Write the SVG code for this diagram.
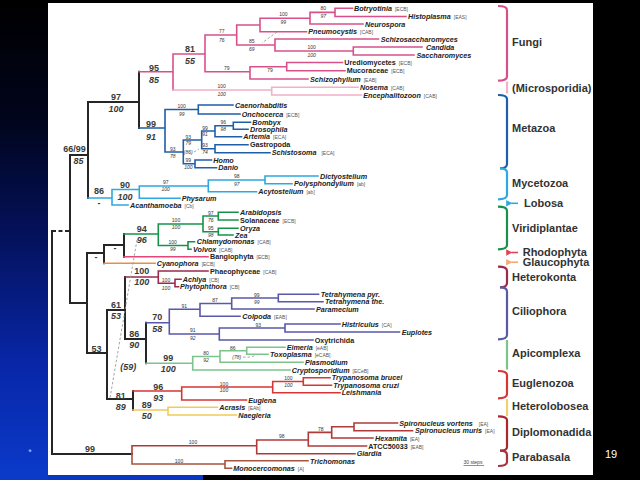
<svg xmlns="http://www.w3.org/2000/svg" width="640" height="480" viewBox="0 0 640 480">
<defs>
<linearGradient id="bg" x1="0" y1="0" x2="0" y2="1">
<stop offset="0" stop-color="#000000"/>
<stop offset="0.25" stop-color="#01051c"/>
<stop offset="0.5" stop-color="#04125e"/>
<stop offset="0.75" stop-color="#0826a6"/>
<stop offset="1" stop-color="#0b3acb"/>
</linearGradient>
<marker id="ar" viewBox="0 0 6 6" refX="1" refY="3" markerWidth="4" markerHeight="4" orient="auto-start-reverse"><path d="M6,0 L0,3 L6,6 z" fill="context-stroke"/></marker>
<style>
text{font-family:"Liberation Sans",Arial,sans-serif}
.br{fill:none;stroke-linecap:square;stroke-linejoin:miter}
.k{stroke:#262626;stroke-width:2}
.fu{stroke:#d8508a;stroke-width:1.6}
.mi{stroke:#f2b0c9;stroke-width:1.6}
.me{stroke:#1f5ea8;stroke-width:1.6}
.my{stroke:#2ea8e0;stroke-width:1.6}
.vi{stroke:#17924a;stroke-width:1.6}
.rh{stroke:#e6457a;stroke-width:1.6}
.gl{stroke:#f08a4a;stroke-width:1.6}
.he{stroke:#9a2a4e;stroke-width:1.6}
.ci{stroke:#5a58a8;stroke-width:1.6}
.ap{stroke:#7cc48c;stroke-width:1.6}
.eu{stroke:#d83636;stroke-width:1.6}
.hl{stroke:#f0cc58;stroke-width:1.6}
.di{stroke:#b03a3a;stroke-width:1.6}
.pa{stroke:#a8543e;stroke-width:1.6}
.dash{fill:none;stroke:#9a9a9a;stroke-width:0.9;stroke-dasharray:2.5,2}
.lf{font-size:7.2px;font-weight:bold;font-style:italic;fill:#222}
.lu{font-size:7.2px;font-weight:bold;fill:#222}
.tg{font-size:5px;font-weight:normal;font-style:normal;fill:#555}
.sm{font-size:5px;fill:#333;text-anchor:middle}
.smi{font-size:5px;fill:#333;text-anchor:middle;font-style:italic}
.bg9{font-size:9px;font-weight:bold;fill:#3a3a3a;text-anchor:middle}
.bi9{font-size:9px;font-weight:bold;font-style:italic;fill:#3a3a3a;text-anchor:middle}
.gp{font-size:11px;font-weight:bold;fill:#333}
.bk{fill:none;stroke-width:2.2;stroke-linecap:butt}
</style>
</defs>
<rect width="640" height="480" fill="#000"/>
<rect x="0" y="0" width="48" height="480" fill="url(#bg)"/>
<rect x="48" y="475" width="155" height="5" fill="#0a36c4"/>
<rect x="48" y="3" width="545" height="472" fill="#fff"/>
<text x="30" y="455" font-size="9" fill="#b8c8ff" text-anchor="middle">*</text>
<text x="611" y="457.5" font-size="11" fill="#fff" text-anchor="middle">19</text>

<g id="connectors">
<path class="br k" d="M52,231 V454 M52,454 H132 M70,155 V303 M70,155 H88 M70,303 H87 M88,102 V198 M88,102 H139 M139,71.7 V128 M87,253 V353 M87,253 H104 M87,353 H107 M104,245 V263.3 M104,245 H124 M124,234 V256.7 M107,310 V399 M107,310 H125 M107,399 H133 M125,277 V339 M125,339 H146 M146,322.7 V363.3 M133,391 V410"/>
<path d="M52,231 H70" fill="none" stroke="#262626" stroke-width="2" stroke-dasharray="4,2.5"/>
<path class="br fu" d="M139,71.7 H173 M173,54 V90 M173,54 H205 M205,35 V71.7 M205,35 H236.7 M205,71.7 H250 M236.7,25 V45 M236.7,25 H260 M236.7,45 H275 M260,18.2 V31.7 M260,18.2 H310 M260,31.7 H306.5 M310,12.4 V24 M310,12.4 H335 M310,24 H363 M335,8.3 V16.5 M335,8.3 H352.5 M335,16.5 H406 M275,39 V51 M275,39 H378.5 M275,51 H353.3 M353.3,47 V55 M353.3,47 H422 M353.3,55 H414 M250,66.7 V79 M250,66.7 H286.7 M250,79 H308 M286.7,62.5 V70.7 M286.7,62.5 H342.5 M286.7,70.7 H345"/>
<path class="br mi" d="M173,90 H271.7 M271.7,87.3 V95 M271.7,87.3 H358 M271.7,95 H361.5"/>
<path class="br me" d="M139,128 H165 M165,109.5 V152 M165,109.5 H198.3 M165,152 H183.3 M198.3,105 V114 M198.3,105 H233 M198.3,114 H240 M183.3,140 V163.8 M183.3,140 H201.7 M183.3,163.8 H195 M201.7,131 V148.7 M201.7,131 H215 M201.7,148.7 H215 M215,125.8 V136.7 M215,125.8 H233.3 M215,136.7 H241.5 M233.3,122.3 V129.3 M233.3,122.3 H250.5 M233.3,129.3 H248 M215,144.7 V152.7 M215,144.7 H248 M215,152.7 H270 M195,160 V167.7 M195,160 H211.5 M195,167.7 H216.5"/>
<path class="br my" d="M88,198 H112 M112,189.5 V205 M112,189.5 H139.3 M112,205 H128 M139.3,186 V198.3 M139.3,186 H208.3 M139.3,198.3 H180 M208.3,180 V191.7 M208.3,180 H265 M208.3,191.7 H256.5 M265,176 V183.7 M265,176 H318 M265,183.7 H292"/>
<path class="br vi" d="M124,234 H158.3 M158.3,224 V245.5 M158.3,224 H203 M158.3,245.5 H188 M203,216 V231.7 M203,216 H218.3 M203,231.7 H218.3 M218.3,212.3 V220 M218.3,212.3 H238 M218.3,220 H238 M218.3,228.3 V235 M218.3,228.3 H238 M218.3,235 H233 M188,241.7 V249.3 M188,241.7 H194.5 M188,249.3 H191"/>
<path class="br rh" d="M124,256.7 H208"/>
<path class="br gl" d="M104,263.3 H155"/>
<path class="br he" d="M125,277 H158.3 M158.3,271 V283.3 M158.3,271 H208 M158.3,283.3 H175 M175,279.3 V286.7 M175,279.3 H181 M175,286.7 H178.5"/>
<path class="br ci" d="M146,322.7 H169.3 M169.3,309.3 V334 M169.3,309.3 H200 M169.3,334 H219.3 M200,303.5 V316.3 M200,303.5 H231.7 M200,316.3 H240 M231.7,298 V309 M231.7,298 H278.3 M231.7,309 H314 M278.3,294.3 V301.7 M278.3,294.3 H318.5 M278.3,301.7 H323 M219.3,328 V340 M219.3,328 H285 M219.3,340 H313 M285,324 V332 M285,324 H340 M285,332 H399.5"/>
<path class="br ap" d="M146,363.3 H192.7 M192.7,356.5 V370 M192.7,356.5 H220 M192.7,370 H290 M220,350.8 V362.3 M220,350.8 H246.7 M220,362.3 H303 M246.7,347.3 V354.3 M246.7,347.3 H285 M246.7,354.3 H268"/>
<path class="br eu" d="M133,391 H181.7 M181.7,387 V400 M181.7,387 H272.7 M181.7,400 H246.5 M272.7,381.5 V392.7 M272.7,381.5 H303.3 M272.7,392.7 H340 M303.3,377.7 V385.3 M303.3,377.7 H330 M303.3,385.3 H331.5"/>
<path class="br hl" d="M133,410 H168 M168,407.3 V415 M168,407.3 H217.5 M168,415 H236.5"/>
<path class="br di" d="M132,445.7 V454 M132,445.7 H256.7 M256.7,440 V453.7 M256.7,440 H308.3 M256.7,453.7 H355 M308.3,432.4 V446 M308.3,432.4 H331.7 M308.3,446 H366.5 M331.7,426.8 V438 M331.7,426.8 H354 M331.7,438 H373 M354,423 V430.7 M354,423 H397.5 M354,430.7 H412.5"/>
<path class="br pa" d="M132,454 V464 M132,464 H225 M225,460.7 V468.3 M225,460.7 H308 M225,468.3 H231.5"/>
<path class="dash" d="M277,32 L262,43 M194,152 L199,149 M243,357 Q250,358 256,355 M137,240 L110,398"/>
</g>

<g id="support">
<text class="bg9" x="116" y="100">97</text><text class="bi9" x="116" y="112">100</text>
<text class="bg9" x="154" y="70.5">95</text><text class="bi9" x="154" y="82.5">85</text>
<text class="bg9" x="190" y="51.5">81</text><text class="bi9" x="190" y="64">55</text>
<text class="bg9" x="151" y="127">99</text><text class="bi9" x="151" y="139.5">91</text>
<text class="bg9" x="74.5" y="151.5">66/99</text><text class="bi9" x="78.5" y="164">85</text>
<text class="bg9" x="99" y="194">86</text><text class="bg9" x="99" y="206">-</text>
<text class="bg9" x="125" y="187.5">90</text><text class="bi9" x="125" y="199.5">100</text>
<text class="bg9" x="141.7" y="231.5">94</text><text class="bi9" x="141.7" y="242.5">96</text>
<text class="bg9" x="115" y="251">-</text><text class="bg9" x="96" y="260">-</text>
<text class="bg9" x="141.7" y="274.3">100</text><text class="bi9" x="141.7" y="285">100</text>
<text class="bg9" x="116" y="308.3">61</text><text class="bi9" x="116" y="318.5">53</text>
<text class="bg9" x="157.3" y="320">70</text><text class="bi9" x="157.3" y="331.6">58</text>
<text class="bg9" x="134.3" y="336.5">86</text><text class="bi9" x="134.3" y="348.3">90</text>
<text class="bg9" x="96.5" y="351.5">53</text>
<text class="bg9" x="168.3" y="360.7">99</text><text class="bi9" x="168.3" y="371.7">100</text>
<text class="bi9" x="128.3" y="370">(59)</text>
<text class="bg9" x="120.7" y="398.8">81</text><text class="bi9" x="120.7" y="410">89</text>
<text class="bg9" x="158.3" y="389.5">96</text><text class="bi9" x="158.3" y="400.5">93</text>
<text class="bg9" x="146.7" y="408">89</text><text class="bi9" x="146.7" y="418.5">50</text>
<text class="bg9" x="90" y="452">99</text>

<text class="sm" x="323.3" y="10.3">80</text><text class="smi" x="323.3" y="18">97</text>
<text class="sm" x="283.3" y="16">100</text><text class="smi" x="283.3" y="24.3">99</text>
<text class="sm" x="221.7" y="32.5">77</text><text class="smi" x="221.7" y="41.5">76</text>
<text class="sm" x="251.7" y="42.5">85</text><text class="smi" x="251.7" y="50.5">69</text>
<text class="sm" x="311.7" y="49">100</text><text class="smi" x="311.7" y="56.5">100</text>
<text class="sm" x="226.7" y="70">79</text>
<text class="sm" x="270" y="72">79</text>
<text class="sm" x="221.7" y="88">100</text><text class="smi" x="221.7" y="96">100</text>
<text class="sm" x="181.7" y="107.5">100</text><text class="smi" x="181.7" y="115.5">99</text>
<text class="sm" x="223.3" y="124">96</text><text class="smi" x="223.3" y="131">98</text>
<text class="sm" x="205" y="129.5">99</text><text class="smi" x="205" y="136.3">91</text>
<text class="sm" x="205" y="147">93</text><text class="smi" x="205" y="153.8">74</text>
<text class="sm" x="188.3" y="138.5">93</text><text class="smi" x="188.3" y="145">79</text>
<text class="smi" x="188.3" y="153.5">(86)</text>
<text class="sm" x="188.3" y="162">99</text><text class="smi" x="188.3" y="168.5">100</text>
<text class="sm" x="172.7" y="150.5">93</text><text class="smi" x="172.7" y="157.8">78</text>
<text class="sm" x="165.7" y="184.3">97</text><text class="smi" x="165.7" y="191.3">100</text>
<text class="sm" x="236.7" y="178.3">98</text><text class="smi" x="236.7" y="185.5">97</text>
<text class="sm" x="176" y="222">100</text><text class="smi" x="176" y="229">100</text>
<text class="sm" x="210.7" y="214.5">97</text><text class="smi" x="210.7" y="221.8">76</text>
<text class="sm" x="210.7" y="230">95</text><text class="smi" x="210.7" y="237.3">98</text>
<text class="sm" x="172.7" y="244">100</text><text class="smi" x="172.7" y="251.3">99</text>
<text class="sm" x="166" y="282">100</text><text class="smi" x="166" y="289.5">100</text>
<text class="sm" x="184.3" y="307.8">91</text>
<text class="sm" x="215" y="302">87</text>
<text class="sm" x="256.7" y="296.5">99</text><text class="smi" x="256.7" y="303.5">99</text>
<text class="sm" x="192.7" y="332">91</text><text class="smi" x="192.7" y="339.5">92</text>
<text class="sm" x="258.3" y="326.5">93</text>
<text class="sm" x="206" y="355">80</text><text class="smi" x="206" y="362">92</text>
<text class="sm" x="232.7" y="349.5">86</text>
<text class="smi" x="236.7" y="358.5">(78)</text>
<text class="sm" x="224" y="385.5">100</text><text class="smi" x="224" y="392.3">100</text>
<text class="sm" x="288.3" y="380">100</text><text class="smi" x="288.3" y="387">100</text>
<text class="sm" x="193" y="444">100</text>
<text class="sm" x="281.7" y="438.3">98</text>
<text class="sm" x="320.7" y="431">78</text>
<text class="sm" x="179" y="462.5">100</text>
</g>

<g id="taxa">
<g id="t01"><text class="lf" x="354" y="10.9">Botryotinia<tspan class="tg" dx="3">[ECB]</tspan></text></g>
<g id="t02"><text class="lf" x="408" y="19.1">Histoplasma<tspan class="tg" dx="3">[EAS]</tspan></text></g>
<g id="t03"><text class="lf" x="365" y="26.6">Neurospora</text></g>
<g id="t04"><text class="lf" x="308.3" y="34.3">Pneumocystis<tspan class="tg" dx="3">[CAB]</tspan></text></g>
<g id="t05"><text class="lf" x="380.7" y="41.6">Schizosaccharomyces</text></g>
<g id="t06"><text class="lf" x="426" y="49.6">Candida</text></g>
<g id="t07"><text class="lf" x="416.5" y="57.6">Saccharomyces</text></g>
<g id="t08"><text class="lu" x="344.3" y="65.1">Urediomycetes<tspan class="tg" dx="3">[ECB]</tspan></text></g>
<g id="t09"><text class="lu" x="346.7" y="73.3">Mucoraceae<tspan class="tg" dx="3">[ECB]</tspan></text></g>
<g id="t10"><text class="lf" x="310" y="81.6">Schizophyllum<tspan class="tg" dx="3">[EAB]</tspan></text></g>
<g id="t11"><text class="lf" x="360" y="89.9">Nosema<tspan class="tg" dx="3">[CAB]</tspan></text></g>
<g id="t12"><text class="lf" x="363.3" y="97.6">Encephalitozoon<tspan class="tg" dx="3">[CAB]</tspan></text></g>
<g id="t13"><text class="lf" x="235" y="107.6">Caenorhabditis</text></g>
<g id="t14"><text class="lf" x="241.7" y="116.6">Onchocerca<tspan class="tg" dx="3">[ECB]</tspan></text></g>
<g id="t15"><text class="lf" x="252.3" y="124.9">Bombyx</text></g>
<g id="t16"><text class="lf" x="250" y="131.9">Drosophila</text></g>
<g id="t17"><text class="lf" x="243.3" y="139.3">Artemia<tspan class="tg" dx="3">[ECA]</tspan></text></g>
<g id="t18"><text class="lu" x="250" y="147.3">Gastropoda</text></g>
<g id="t19"><text class="lf" x="271.7" y="155.3">Schistosoma<tspan class="tg" dx="5">[ECA]</tspan></text></g>
<g id="t20"><text class="lf" x="213.3" y="162.6">Homo</text></g>
<g id="t21"><text class="lf" x="218.3" y="170.3">Danio</text></g>
<g id="t22"><text class="lf" x="320" y="178.6">Dictyostelium</text></g>
<g id="t23"><text class="lf" x="294" y="186.3">Polysphondylium<tspan class="tg" dx="3">[ab]</tspan></text></g>
<g id="t24"><text class="lf" x="258.3" y="194.3">Acytostelium<tspan class="tg" dx="3">[ab]</tspan></text></g>
<g id="t25"><text class="lf" x="181.7" y="200.9">Physarum</text></g>
<g id="t26"><text class="lf" x="130" y="207.6">Acanthamoeba<tspan class="tg" dx="3">[Cb]</tspan></text></g>
<g id="t27"><text class="lf" x="240" y="214.9">Arabidopsis</text></g>
<g id="t28"><text class="lu" x="240" y="222.6">Solanaceae<tspan class="tg" dx="3">[ECB]</tspan></text></g>
<g id="t29"><text class="lf" x="240" y="230.9">Oryza</text></g>
<g id="t30"><text class="lf" x="235" y="237.6">Zea</text></g>
<g id="t31"><text class="lf" x="196.7" y="244.3">Chlamydomonas<tspan class="tg" dx="3">[CAB]</tspan></text></g>
<g id="t32"><text class="lf" x="193" y="251.9">Volvox<tspan class="tg" dx="3">[CAB]</tspan></text></g>
<g id="t33"><text class="lu" x="210" y="259.3">Bangiophyta<tspan class="tg" dx="3">[ECB]</tspan></text></g>
<g id="t34"><text class="lf" x="156.7" y="265.9">Cyanophora<tspan class="tg" dx="3">[ECB]</tspan></text></g>
<g id="t35"><text class="lu" x="210" y="273.6">Phaeophyceae<tspan class="tg" dx="3">[CAB]</tspan></text></g>
<g id="t36"><text class="lf" x="182.7" y="281.9">Achlya<tspan class="tg" dx="3">[CB]</tspan></text></g>
<g id="t37"><text class="lf" x="180" y="289.3">Phytophthora<tspan class="tg" dx="3">[CB]</tspan></text></g>
<g id="t38"><text class="lf" x="320.7" y="296.9">Tetrahymena pyr.</text></g>
<g id="t39"><text class="lf" x="325" y="304.3">Tetrahymena the.</text></g>
<g id="t40"><text class="lf" x="316" y="311.6">Paramecium</text></g>
<g id="t41"><text class="lf" x="242.3" y="318.9">Colpoda<tspan class="tg" dx="3">[EAB]</tspan></text></g>
<g id="t42"><text class="lf" x="341.7" y="326.6">Histriculus<tspan class="tg" dx="3">[CA]</tspan></text></g>
<g id="t43"><text class="lf" x="401.7" y="334.6">Euplotes</text></g>
<g id="t44"><text class="lu" x="314.7" y="342.6">Oxytrichida</text></g>
<g id="t45"><text class="lf" x="286.7" y="349.9">Eimeria<tspan class="tg" dx="3">[eAB]</tspan></text></g>
<g id="t46"><text class="lf" x="270" y="356.9">Toxoplasma<tspan class="tg" dx="3">[eCAB]</tspan></text></g>
<g id="t47"><text class="lf" x="305" y="364.9">Plasmodium</text></g>
<g id="t48"><text class="lf" x="291.7" y="372.6">Cryptosporidium<tspan class="tg" dx="3">[ECeB]</tspan></text></g>
<g id="t49"><text class="lf" x="331.7" y="380.3">Trypanosoma brucei</text></g>
<g id="t50"><text class="lf" x="333.3" y="387.9">Trypanosoma cruzi</text></g>
<g id="t51"><text class="lf" x="341.7" y="395.3">Leishmania</text></g>
<g id="t52"><text class="lf" x="248.3" y="402.6">Euglena</text></g>
<g id="t53"><text class="lf" x="219.3" y="409.9">Acrasis<tspan class="tg" dx="3">[EAb]</tspan></text></g>
<g id="t54"><text class="lf" x="238.3" y="417.6">Naegleria</text></g>
<g id="t55"><text class="lf" x="399.3" y="425.6">Spironucleus vortens<tspan class="tg" dx="6">[EA]</tspan></text></g>
<g id="t56"><text class="lf" x="415" y="433.3">Spironucleus muris<tspan class="tg" dx="3">[EA]</tspan></text></g>
<g id="t57"><text class="lf" x="375" y="440.6">Hexamita<tspan class="tg" dx="3">[EA]</tspan></text></g>
<g id="t58"><text class="lu" x="368.3" y="448.6">ATCC50033<tspan class="tg" dx="3">[EAB]</tspan></text></g>
<g id="t59"><text class="lf" x="356.7" y="456.3">Giardia</text></g>
<g id="t60"><text class="lf" x="310" y="463.6">Trichomonas</text></g>
<g id="t61"><text class="lf" x="233.3" y="470.9">Monocercomonas<tspan class="tg" dx="3">[A]</tspan></text></g>
</g>

<g id="groups">
<g id="g-fungi"><path class="bk" stroke="#d8508a" d="M498,6 Q507,6 507,10 V76.5 Q507,80.7 498,80.7"/><text class="gp" x="512" y="46">Fungi</text></g>
<g id="g-micro"><path class="bk" stroke="#f2b0c9" d="M507,81.5 V93.5"/><text class="gp" x="512" y="92.3" font-size="8.6">(Microsporidia)</text></g>
<g id="g-metazoa"><path class="bk" stroke="#1f5ea8" d="M498,95 Q507,95 507,99 V164 Q507,168.3 500,168.3"/><text class="gp" x="512" y="132.3">Metazoa</text></g>
<g id="g-myceto"><path class="bk" stroke="#2ea8e0" d="M500,168.3 Q507,168.3 507,172.5 V195 Q507,199.3 498,199.3"/><text class="gp" x="512" y="187.3">Mycetozoa</text></g>
<g id="g-lobosa"><path d="M518,203.3 H511.5" stroke="#2ea8e0" stroke-width="1.6" marker-end="url(#ar)"/><text class="gp" x="524" y="207.3">Lobosa</text></g>
<g id="g-viridi"><path class="bk" stroke="#17924a" d="M498,206.7 Q507,206.7 507,211 V245 Q507,249.3 498,249.3"/><text class="gp" x="512" y="232.3">Viridiplantae</text></g>
<g id="g-rhodo"><path d="M518,252.5 H511.5" stroke="#e04658" stroke-width="1.6" marker-end="url(#ar)"/><text class="gp" x="522.7" y="255.8" font-size="9.6">Rhodophyta</text></g>
<g id="g-glauco"><path d="M518,262.2 H511.5" stroke="#f4aa70" stroke-width="1.6" marker-end="url(#ar)"/><text class="gp" x="522.7" y="265.8" font-size="9.6">Glaucophyta</text></g>
<g id="g-hetero"><path class="bk" stroke="#9a2a4e" d="M498,266.7 Q507,266.7 507,271 V283 Q507,287.3 500,287.3"/><text class="gp" x="512" y="281">Heterokonta</text></g>
<g id="g-cilio"><path class="bk" stroke="#5a58a8" d="M500,287.3 Q507,287.3 507,291.5 V335 Q507,339.3 498,339.3"/><text class="gp" x="512" y="314.7">Ciliophora</text></g>
<g id="g-apico"><path class="bk" stroke="#7cc48c" d="M507,340 V369.5"/><text class="gp" x="512" y="357.3">Apicomplexa</text></g>
<g id="g-eugleno"><path class="bk" stroke="#d83636" d="M498,371 Q507,371 507,375 V394 Q507,398.3 498,398.3"/><text class="gp" x="512" y="386.7">Euglenozoa</text></g>
<g id="g-heterolob"><path class="bk" stroke="#f2d070" d="M507,399 V416"/><text class="gp" x="512" y="410">Heterolobosea</text></g>
<g id="g-diplo"><path class="bk" stroke="#a8282e" d="M498,416.3 Q507,416.3 507,420 V447 Q507,450.7 500,450.7"/><text class="gp" x="512" y="435.7" font-size="10.8">Diplomonadida</text></g>
<g id="g-parab"><path class="bk" stroke="#a8343a" d="M500,450.7 Q507,450.7 507,455 V462 Q507,466 498,466"/><text class="gp" x="512" y="461.3">Parabasala</text></g>
</g>

<g id="scale"><text x="463.5" y="463.5" font-size="5" fill="#444">30 steps</text><path d="M463.5,465.5 H484" stroke="#444" stroke-width="0.6"/></g>
</svg>
